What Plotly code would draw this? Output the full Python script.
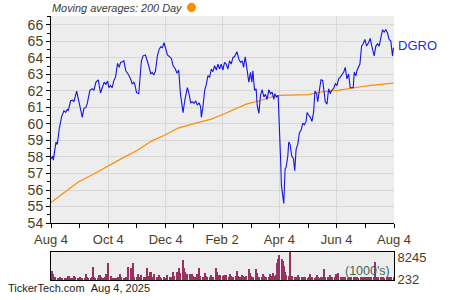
import pandas as pd
import plotly.graph_objects as go

# ---------------- data ----------------
start = pd.Timestamp("2024-08-04")

# price (days after Aug 4 2024, close)
price_day = [0.0, 1.8, 2.5, 4.3, 5.3, 6.7, 8.9, 11.3, 13.8, 15.6, 17.3, 18.4, 20.9, 23.0, 24.4,
             27.3, 28.3, 30.1, 33.3, 35.0, 37.2, 38.6, 41.4, 43.9, 45.7, 47.8, 50.3, 52.7, 54.5,
             56.6, 58.4, 60.2, 61.6, 63.3, 65.1, 66.9, 68.7, 70.8, 72.6, 74.0, 76.1, 77.5, 79.6,
             82.1, 84.6, 86.4, 88.1, 89.2, 91.0, 93.4, 96.2, 98.0, 100.5, 102.6, 104.0, 106.2,
             107.6, 109.3, 111.1, 113.2, 115.0, 116.8, 118.5, 120.3, 122.1, 123.9, 126.3, 128.1,
             129.9, 132.4, 134.1, 135.9, 137.7, 139.4, 140.5, 142.3, 145.1, 146.9, 148.6, 150.4,
             152.2, 153.9, 155.7, 157.5, 159.2, 160.0, 161.7, 163.5, 165.3, 167.0, 168.8, 170.6,
             172.3, 174.1, 175.9, 177.6, 179.4, 181.2, 182.9, 184.7, 186.5, 188.2, 190.0, 191.8,
             193.6, 195.3, 197.8, 199.9, 201.7, 203.5, 204.9, 206.7, 208.4, 210.5, 212.3, 213.7,
             214.8, 216.6, 218.3, 219.4, 221.2, 222.9, 224.7, 226.5, 228.2, 230.0, 231.8, 233.5,
             235.3, 237.1, 238.1, 239.9, 241.7, 243.1, 244.2, 245.2, 246.6, 247.7, 249.1, 250.2,
             252.0, 253.0, 254.4, 256.2, 258.0, 259.4, 260.8, 262.6, 264.3, 266.1, 267.9, 269.6,
             271.4, 272.5, 274.2, 276.0, 277.7, 279.5, 280.9, 282.7, 283.8, 285.5, 287.3, 289.1,
             290.8, 291.9, 293.7, 295.4, 297.2, 298.6, 300.7, 302.5, 304.3, 306.1, 307.8, 309.6,
             311.4, 313.1, 314.9, 316.7, 318.4, 320.2, 321.6, 322.7, 324.5, 325.5, 327.3, 328.7,
             330.5, 332.2, 334.0, 335.8, 337.9, 339.7, 341.4, 343.9, 345.7, 347.5, 349.2, 351.0,
             352.8, 354.5, 356.3, 358.1, 359.8, 361.6, 363.4, 364.4]
price_val = [57.87, 58.06, 57.81, 58.76, 58.90, 58.76, 59.75, 60.44, 60.80, 60.70, 60.88, 60.80,
             61.40, 61.44, 61.34, 61.99, 61.63, 61.24, 60.40, 60.94, 61.00, 61.24, 62.03, 62.13,
             62.03, 62.53, 62.67, 61.87, 62.19, 62.53, 62.39, 62.59, 62.19, 62.33, 62.19, 62.63,
             62.83, 63.66, 63.42, 63.72, 63.76, 63.82, 63.22, 63.02, 62.73, 62.43, 62.53, 62.39,
             61.89, 61.83, 63.82, 64.12, 64.17, 63.66, 63.52, 63.02, 63.12, 62.96, 63.18, 64.12,
             64.51, 64.67, 64.61, 64.91, 64.51, 64.17, 64.06, 63.96, 63.52, 63.32, 63.06, 63.26,
             61.83, 61.04, 60.68, 61.40, 62.19, 61.83, 61.28, 61.34, 61.24, 61.40, 61.14, 61.28,
             61.04, 60.40, 61.04, 62.03, 62.39, 62.92, 62.83, 63.32, 63.16, 63.52, 63.26, 63.62,
             63.32, 63.62, 63.26, 63.72, 63.62, 63.32, 63.82, 63.62, 64.02, 64.06, 64.37, 63.92,
             63.72, 63.82, 63.42, 64.06, 63.32, 62.53, 63.12, 62.53, 63.22, 62.03, 62.13, 61.14,
             60.64, 61.73, 62.07, 61.63, 61.79, 61.48, 62.07, 61.83, 61.93, 61.48, 61.83, 61.63,
             61.73, 59.95, 58.06, 56.28, 55.78, 55.19, 57.27, 57.37, 58.06, 58.90, 58.76, 58.06,
             57.90, 57.17, 58.46, 58.76, 59.45, 59.61, 60.05, 59.95, 60.15, 60.68, 60.54, 60.40,
             60.15, 60.74, 61.99, 61.83, 61.34, 62.13, 62.67, 62.63, 61.99, 61.34, 61.20, 62.13,
             61.83, 62.03, 62.13, 62.43, 62.33, 62.73, 62.83, 63.02, 63.12, 63.42, 62.73, 63.02,
             62.19, 62.19, 62.19, 63.12, 62.92, 63.22, 63.46, 63.62, 64.71, 64.85, 65.11, 64.71,
             64.91, 65.17, 64.71, 64.12, 64.71, 64.85, 64.71, 65.21, 65.70, 65.56, 65.70, 65.50,
             65.11, 65.01, 64.12, 64.61]

# 200-day moving average
ma_day = [0, 14, 29, 45, 59.8, 75, 91, 106.9, 121.3, 135.2, 151.1, 170.6, 184.0, 193.6, 207.7,
          221.9, 232.5, 243.1, 260.8, 274.2, 287.3, 305.0, 322.7, 340.4, 364.4]
ma_val = [55.24, 55.85, 56.49, 56.95, 57.43, 57.90, 58.38, 58.96, 59.33, 59.75, 60.00, 60.29,
          60.60, 60.84, 61.20, 61.40, 61.60, 61.73, 61.73, 61.77, 61.93, 62.03, 62.19, 62.33, 62.47]

# daily volume (thousands), trading days from Aug 5 2024
volume = [
    3500, 2500, 1400, 1100, 1000, 900, 1000, 1300, 900, 800, 900, 1000, 900, 1700, 1600, 1000, 900, 1000, 1700, 1100,
    900, 1000, 1300, 1000, 900, 800, 1000, 2500, 1100, 900, 1000, 1100, 5000, 1200, 1000, 900, 2000, 2000, 1200, 1000,
    900, 1100, 2300, 1200, 6300, 1500, 1000, 900, 1000, 900, 1000, 1100, 1000, 2500, 1200, 1000, 900, 1100, 1200, 5000,
    4500, 1500, 1200, 6300, 1400, 1100, 2500, 1300, 1000, 2000, 1200, 1100, 1000, 4700, 1500, 3200, 3200, 1200, 1100, 2500,
    1200, 1000, 2000, 1100, 900, 1000, 1100, 900, 1000, 2000, 1200, 1100, 1300, 3200, 1500, 3200, 1400, 1300, 4500, 2800,
    7400, 4700, 3000, 1600, 2500, 2500, 2500, 2500, 1500, 1300, 1400, 2500, 1500, 4700, 1600, 1400, 1300, 2800, 1500, 1300,
    1400, 2000, 1500, 1300, 1400, 4700, 3200, 1500, 2000, 2000, 1800, 2000, 1900, 2000, 1500, 1400, 2300, 1500, 1400, 1300,
    1500, 3500, 1600, 1400, 1300, 2000, 1500, 1400, 1300, 1500, 4100, 2800, 1600, 1400, 1300, 4100, 2800, 1500, 1400, 1300,
    1400, 2300, 1500, 1300, 1200, 1400, 2300, 1500, 1400, 2800, 1600, 2000, 6500, 8000, 9300, 8100, 7100, 5300, 3000, 2000,
    1800, 1600, 10500, 1800, 1500, 1400, 1300, 1200, 2000, 1300, 1200, 1100, 1300, 1200, 1100, 1000, 1200, 2500, 1300, 1100,
    1000, 1200, 2000, 1100, 1000, 1200, 1100, 1000, 4100, 1300, 1100, 1000, 2000, 1200, 1100, 1000, 1300, 2300, 1200, 2800,
    1300, 1100, 1000, 1200, 1100, 1000, 1300, 1100, 1200, 1000, 1100, 1200, 1300, 1100, 1000, 1200, 1100, 1300, 1200, 1100,
    1200, 1100, 1300, 1200, 1100, 1300, 6900, 1400, 1200, 1100, 1300, 1000, 1100, 1200, 1000, 1300, 1100, 1200, 1000, 1100,
    1200]

x_tick_dates = ["2024-08-04", "2024-10-04", "2024-12-04", "2025-02-02", "2025-04-04", "2025-06-04", "2025-08-04"]
x_tick_text = ["Aug 4", "Oct 4", "Dec 4", "Feb 2", "Apr 4", "Jun 4", "Aug 4"]
x_minor_dates = ["2024-09-03", "2024-11-03", "2025-01-03", "2025-03-05", "2025-05-05", "2025-07-05"]
y_ticks = list(range(54, 67))
vol_tick_vals = [8245, 232]
vol_tick_text = ["8245", "232"]

# ---------------- figure ----------------
price_x = [start + pd.Timedelta(days=d) for d in price_day]
ma_x = [start + pd.Timedelta(days=d) for d in ma_day]
vol_x = list(pd.bdate_range("2024-08-05", periods=len(volume)))

FONT = "Liberation Sans, Arial, sans-serif"
TXT = "#4b3d1e"

fig = go.Figure()
fig.add_trace(go.Scatter(x=ma_x, y=ma_val, mode="lines",
                         line=dict(color="#ff8c00", width=1.2), xaxis="x", yaxis="y"))
fig.add_trace(go.Scatter(x=price_x, y=price_val, mode="lines",
                         line=dict(color="#1414e6", width=1.1), xaxis="x", yaxis="y"))
fig.add_trace(go.Bar(x=vol_x, y=volume, marker=dict(color="#9b2f5f", line=dict(width=0)),
                     width=1.6 * 86400000, xaxis="x2", yaxis="y2"))

fig.update_layout(
    width=450, height=300,
    margin=dict(l=51, r=56, t=16, b=15),
    paper_bgcolor="white", plot_bgcolor="#ededed",
    showlegend=False, bargap=0,
    font=dict(family=FONT, color=TXT, size=13),
    xaxis=dict(type="date", range=["2024-08-04", "2025-08-04"], anchor="y",
               tickmode="array", tickvals=x_tick_dates, ticktext=x_tick_text,
               showgrid=True, gridcolor="#d8d8d8", gridwidth=1,
               showline=True, linecolor="black", linewidth=1,
               ticks="outside", ticklen=4, tickcolor="black",
               tickfont=dict(size=13, color=TXT),
               minor=dict(tickmode="array", tickvals=x_minor_dates, ticks="outside",
                          ticklen=4, tickcolor="black", showgrid=False),
               zeroline=False, fixedrange=True),
    yaxis=dict(domain=[0.2156, 1.0], range=[54, 66.53], anchor="x",
               tickmode="array", tickvals=y_ticks,
               showgrid=True, gridcolor="#d8d8d8", gridwidth=1,
               showline=True, linecolor="black", linewidth=1,
               ticks="outside", ticklen=4, tickcolor="black",
               tickfont=dict(size=14, color=TXT),
               minor=dict(dtick=0.5, ticks="outside", ticklen=3, tickcolor="black", showgrid=False),
               zeroline=False),
    xaxis2=dict(type="date", matches="x", anchor="y2", showticklabels=False,
                showgrid=False, showline=True, mirror=True, linecolor="black", linewidth=1,
                ticks="", zeroline=False),
    yaxis2=dict(domain=[0.0, 0.1078], range=[0, 10500], anchor="x2", side="right",
                tickmode="array", tickvals=vol_tick_vals, ticktext=vol_tick_text,
                showgrid=False, showline=True, mirror=True, linecolor="black", linewidth=1,
                ticks="", tickfont=dict(size=13, color=TXT), zeroline=False),
)

fig.add_annotation(xref="paper", yref="paper", x=-0.003, y=1.03, xanchor="left", yanchor="middle",
                   text="<i>Moving averages: 200 Day</i>", showarrow=False,
                   font=dict(size=10.9, color="#3a3a3a", family=FONT))
fig.add_shape(type="circle", xref="paper", yref="paper", x0=0.3965, x1=0.4228, y0=1.0149, y1=1.050,
              fillcolor="#ff8c00", line=dict(width=0))
fig.add_annotation(xref="paper", yref="paper", x=1.006, y=0.888, xanchor="left", yanchor="middle",
                   text="DGRO", showarrow=False, font=dict(size=13, color="#1a2ee0", family=FONT))
fig.add_annotation(xref="x2 domain", yref="y2 domain", x=0.995, y=0.0, xanchor="right", yanchor="bottom",
                   text="(1000's)", showarrow=False, font=dict(size=12.5, color="#3f6a4f", family=FONT))
fig.add_annotation(xref="paper", yref="paper", x=-0.131, y=-0.03, xanchor="left", yanchor="middle",
                   text="TickerTech.com\u00a0\u00a0Aug 4, 2025", showarrow=False,
                   font=dict(size=11, color="#222222", family=FONT))

fig.write_html("out.html")
